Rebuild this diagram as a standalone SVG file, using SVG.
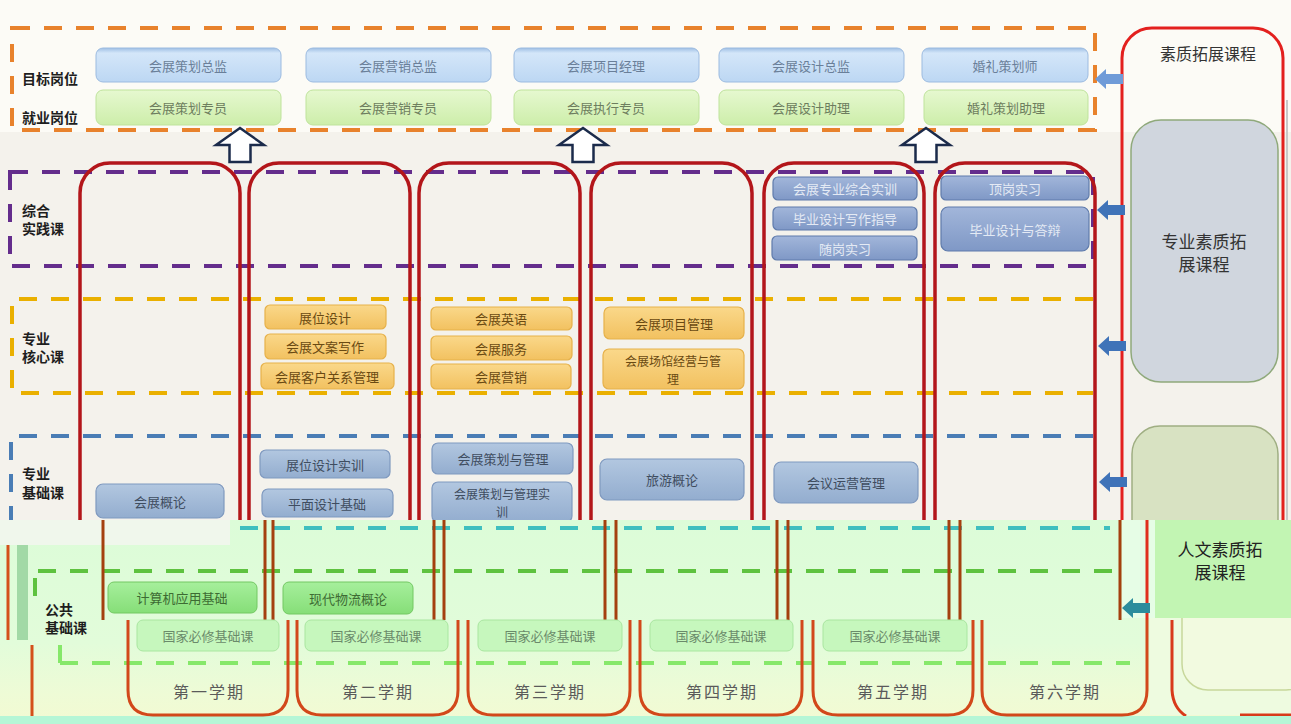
<svg xmlns="http://www.w3.org/2000/svg" width="1291" height="724" viewBox="0 0 1291 724">
<style>
text{font-family:"Noto Sans CJK SC","Noto Sans",sans-serif;text-anchor:middle;dominant-baseline:central}
.lbl{font-size:14px;fill:#1e1e1e;text-anchor:start;font-weight:bold}
.bt{font-size:13px}
.bt .two{font-size:12px}
.tgt rect{fill:url(#gBlue);stroke:#9cbbe0;stroke-width:1}
.tgt text{fill:#6a7f99}
.job rect{fill:url(#gGreen);stroke:#bfe39c;stroke-width:1}
.job text{fill:#6d7d5e}
.prac rect{fill:url(#gPrac);stroke:#5f7bab;stroke-width:1.2}
.prac text{fill:#e4eaf4}
.core rect{fill:url(#gCore);stroke:#e6b14a;stroke-width:1.2}
.core text{fill:#6a4a12}
.base rect{fill:url(#gBase);stroke:#7f99bf;stroke-width:1.2}
.base text{fill:#3f4d60}
.pub rect{fill:url(#gPub);stroke:#73c862;stroke-width:1}
.pub text{fill:#3d6b33}
.nat rect{fill:#c6f7bd;stroke:#a9e6a0;stroke-width:1}
.nat text{fill:#6a8a6a}
.sem{fill:none;stroke:#b3161a;stroke-width:3.5}
.semb{fill:none;stroke:#d2481a;stroke-width:3}
.dash{fill:none;stroke-width:4;stroke-dasharray:18 14}
.brn{stroke:#a4400f;stroke-width:3}
.semt{font-family:"Noto Sans CJK SC",serif;font-size:16px;fill:#5a5a5a;letter-spacing:2px}
.barr{fill:#3f73b8}
</style>
<defs>
<linearGradient id="gBlue" x1="0" y1="0" x2="0" y2="1"><stop offset="0" stop-color="#9fbfe4"/><stop offset="0.15" stop-color="#d4e6f9"/><stop offset="1" stop-color="#bcd7f3"/></linearGradient>
<linearGradient id="gGreen" x1="0" y1="0" x2="0" y2="1"><stop offset="0" stop-color="#e6f8d0"/><stop offset="1" stop-color="#cdeeaa"/></linearGradient>
<linearGradient id="gPrac" x1="0" y1="0" x2="0" y2="1"><stop offset="0" stop-color="#a2b6da"/><stop offset="1" stop-color="#7f98c6"/></linearGradient>
<linearGradient id="gCore" x1="0" y1="0" x2="0" y2="1"><stop offset="0" stop-color="#fad88a"/><stop offset="1" stop-color="#f2c160"/></linearGradient>
<linearGradient id="gBase" x1="0" y1="0" x2="0" y2="1"><stop offset="0" stop-color="#b2c7e0"/><stop offset="1" stop-color="#93adcf"/></linearGradient>
<linearGradient id="gPub" x1="0" y1="0" x2="0" y2="1"><stop offset="0" stop-color="#a6ef9c"/><stop offset="1" stop-color="#86de78"/></linearGradient>
<linearGradient id="gLow" x1="0" y1="0" x2="0" y2="1"><stop offset="0" stop-color="#dcfcd8"/><stop offset="0.6" stop-color="#e2fcda"/><stop offset="0.85" stop-color="#eefbd6"/><stop offset="1" stop-color="#f3fad2"/></linearGradient>
<path id="upArrow" d="M0 0 L24 17 L10.5 17 L10.5 34 L-10.5 34 L-10.5 17 L-24 17 Z"/>
<path id="leftArrow" d="M0 0 L11 -10 L11 -5 L28 -5 L28 5 L11 5 L11 10 Z"/>
</defs>

<!-- backgrounds -->
<rect x="0" y="0" width="1291" height="724" fill="#f4f2ec"/>
<rect x="0" y="0" width="1291" height="132" fill="#fcfbf6"/>
<line x1="1287" y1="100" x2="1287" y2="520" stroke="#c8c8c8" stroke-width="2"/>

<!-- right big frame -->
<g id="quality-frame">
<rect x="1122" y="28" width="161" height="720" rx="30" fill="none" stroke="#e3201e" stroke-width="3"/>
<text x="1208" y="53" style="font-size:16px;fill:#333">素质拓展课程</text>
</g>
<g id="pro-quality">
<rect x="1131" y="120" width="147" height="262" rx="30" fill="#d0d6de" stroke="#8fa97b" stroke-width="1.5"/>
<text x="1204" y="240" style="font-size:17px;fill:#333">专业素质拓</text>
<text x="1204" y="263" style="font-size:17px;fill:#333">展课程</text>
</g>
<g id="hum-quality-top">
<rect x="1132" y="426" width="146" height="200" rx="28" fill="#d8e2c2" stroke="#9fae82" stroke-width="1.5"/>
</g>

<!-- target / job band -->
<g id="band-target">
<rect class="dash" x="12" y="28" width="1083" height="102" stroke="#e8822c"/>
<text class="lbl" x="22" y="78">目标岗位</text>
<text class="lbl" x="22" y="117">就业岗位</text>
</g>
<g id="targets" class="tgt bt">
<g id="t1"><rect x="96" y="48" width="185" height="34" rx="7"/><text x="188" y="65">会展策划总监</text></g>
<g id="t2"><rect x="306" y="48" width="185" height="34" rx="7"/><text x="398" y="65">会展营销总监</text></g>
<g id="t3"><rect x="514" y="48" width="185" height="34" rx="7"/><text x="606" y="65">会展项目经理</text></g>
<g id="t4"><rect x="719" y="48" width="185" height="34" rx="7"/><text x="811" y="65">会展设计总监</text></g>
<g id="t5"><rect x="922" y="48" width="166" height="34" rx="7"/><text x="1005" y="65">婚礼策划师</text></g>
</g>
<g id="jobs" class="job bt">
<g id="j1"><rect x="96" y="90" width="185" height="35" rx="7"/><text x="188" y="107">会展策划专员</text></g>
<g id="j2"><rect x="306" y="90" width="185" height="35" rx="7"/><text x="398" y="107">会展营销专员</text></g>
<g id="j3"><rect x="514" y="90" width="185" height="35" rx="7"/><text x="606" y="107">会展执行专员</text></g>
<g id="j4"><rect x="719" y="90" width="185" height="35" rx="7"/><text x="811" y="107">会展设计助理</text></g>
<g id="j5"><rect x="924" y="90" width="164" height="35" rx="7"/><text x="1006" y="107">婚礼策划助理</text></g>
</g>

<!-- bands -->
<g id="band-practice">
<rect class="dash" x="10" y="172" width="1083" height="94" stroke="#642d8c"/>
<text class="lbl" x="22" y="210">综合</text>
<text class="lbl" x="22" y="228">实践课</text>
</g>
<g id="band-core">
<path class="dash" d="M1093 299 H12 V393 H1093" stroke="#eab000"/>
<text class="lbl" x="22" y="338">专业</text>
<text class="lbl" x="22" y="356">核心课</text>
</g>
<g id="band-base">
<path class="dash" d="M1093 436 H11 V529 H225" stroke="#4a7db5"/>
<text class="lbl" x="22" y="473">专业</text>
<text class="lbl" x="22" y="492">基础课</text>
</g>

<!-- semester columns (upper) -->
<g id="semesters-upper">
<rect class="sem" x="80" y="163" width="160" height="420" rx="30"/>
<rect class="sem" x="249" y="163" width="161" height="420" rx="30"/>
<rect class="sem" x="419" y="163" width="161" height="420" rx="30"/>
<rect class="sem" x="591" y="163" width="161" height="420" rx="30"/>
<rect class="sem" x="764" y="163" width="160" height="420" rx="30"/>
<rect class="sem" x="935" y="163" width="160" height="420" rx="30"/>
</g>

<!-- courses -->
<g id="practice" class="prac bt">
<g id="p1"><rect x="773" y="177" width="144" height="23" rx="5"/><text x="845" y="188.5">会展专业综合实训</text></g>
<g id="p2"><rect x="773" y="207" width="144" height="23" rx="5"/><text x="845" y="218.5">毕业设计写作指导</text></g>
<g id="p3"><rect x="772" y="236" width="145" height="24" rx="5"/><text x="845" y="248">随岗实习</text></g>
<g id="p4"><rect x="941" y="176" width="148" height="24" rx="5"/><text x="1015" y="188">顶岗实习</text></g>
<g id="p5"><rect x="941" y="207" width="148" height="44" rx="7"/><text x="1015" y="229">毕业设计与答辩</text></g>
</g>
<g id="core" class="core bt">
<g id="c1"><rect x="265" y="305" width="121" height="24" rx="5"/><text x="325" y="317">展位设计</text></g>
<g id="c2"><rect x="265" y="334" width="121" height="25" rx="5"/><text x="325" y="346">会展文案写作</text></g>
<g id="c3"><rect x="261" y="363" width="133" height="26" rx="5"/><text x="327" y="376">会展客户关系管理</text></g>
<g id="c4"><rect x="431" y="307" width="141" height="23" rx="5"/><text x="501" y="318.5">会展英语</text></g>
<g id="c5"><rect x="431" y="336" width="141" height="24" rx="5"/><text x="501" y="348">会展服务</text></g>
<g id="c6"><rect x="431" y="364" width="140" height="25" rx="5"/><text x="501" y="376">会展营销</text></g>
<g id="c7"><rect x="604" y="307" width="140" height="32" rx="6"/><text x="674" y="323">会展项目管理</text></g>
<g id="c8"><rect x="603" y="349" width="141" height="40" rx="6"/><text class="two" x="673" y="360">会展场馆经营与管</text><text class="two" x="673" y="378">理</text></g>
</g>
<g id="base" class="base bt">
<g id="b1"><rect x="96" y="484" width="128" height="34" rx="7"/><text x="160" y="501">会展概论</text></g>
<g id="b2"><rect x="260" y="450" width="130" height="28" rx="6"/><text x="325" y="464">展位设计实训</text></g>
<g id="b3"><rect x="262" y="489" width="131" height="28" rx="6"/><text x="327" y="503">平面设计基础</text></g>
<g id="b4"><rect x="432" y="443" width="141" height="31" rx="6"/><text x="503" y="458">会展策划与管理</text></g>
<g id="b5"><rect x="432" y="482" width="140" height="40" rx="6"/><text class="two" x="502" y="493">会展策划与管理实</text><text class="two" x="502" y="511">训</text></g>
<g id="b6"><rect x="600" y="459" width="144" height="41" rx="7"/><text x="672" y="479">旅游概论</text></g>
<g id="b7"><rect x="774" y="462" width="144" height="41" rx="7"/><text x="846" y="482">会议运营管理</text></g>
</g>

<!-- connectors -->
<g id="connectors">
<use href="#upArrow" x="240" y="128" fill="#ffffff" stroke="#1b2b4b" stroke-width="2.5"/>
<use href="#upArrow" x="583" y="128" fill="#ffffff" stroke="#1b2b4b" stroke-width="2.5"/>
<use href="#upArrow" x="926" y="128" fill="#ffffff" stroke="#1b2b4b" stroke-width="2.5"/>
<use href="#leftArrow" x="1095" y="79" fill="#6f9bd8"/>
<use href="#leftArrow" x="1097" y="210" class="barr"/>
<use href="#leftArrow" x="1098" y="346" class="barr"/>
<use href="#leftArrow" x="1099" y="482" class="barr"/>
</g>

<!-- lower (public) region -->
<g id="lower-region">
<rect x="0" y="520" width="1291" height="204" fill="url(#gLow)"/>
<rect x="0" y="520" width="230" height="25" fill="#f0f7ec"/>
<rect x="17" y="545" width="11" height="95" fill="#a2d9a6"/>
<line x1="8" y1="545" x2="8" y2="640" stroke="#d4501a" stroke-width="3"/>
<line x1="32" y1="645" x2="32" y2="724" stroke="#d4501a" stroke-width="3"/>
<rect x="1150" y="618" width="141" height="97" fill="#eefbe0"/>
<rect x="1182" y="560" width="130" height="130" rx="26" fill="#f2fae0" stroke="#c7d79a" stroke-width="1.5"/>
<rect x="1155" y="520" width="136" height="98" fill="#c2f5b3"/>
<rect x="1122" y="520" width="33" height="98" fill="#e6fde6"/>
<path d="M1172 620 V690 Q1173 708 1186 716" fill="none" stroke="#d83a1a" stroke-width="3"/>
<line x1="1240" y1="715" x2="1291" y2="715" stroke="#d83a1a" stroke-width="3"/>
<rect x="0" y="716" width="1291" height="8" fill="#b5f6d6"/>
<text x="1220" y="548" style="font-size:17px;fill:#222">人文素质拓</text>
<text x="1220" y="571" style="font-size:17px;fill:#222">展课程</text>
</g>

<g id="band-public">
<line class="dash" x1="240" y1="528" x2="1110" y2="528" stroke="#3fbfbf"/>
<line class="dash" x1="38" y1="571" x2="1120" y2="571" stroke="#5ec23f"/>
<line class="dash" x1="35" y1="578" x2="35" y2="600" stroke="#5ec23f"/>
<line class="dash" x1="60" y1="663" x2="1130" y2="663" stroke="#86e86a"/>
<line class="dash" x1="60" y1="645" x2="60" y2="663" stroke="#86e86a"/>
<text class="lbl" x="45" y="609">公共</text>
<text class="lbl" x="45" y="627">基础课</text>
</g>

<g id="semester-lines">
<line class="brn" x1="103" y1="520" x2="103" y2="620"/>
<line class="brn" x1="265" y1="520" x2="265" y2="620"/>
<line class="brn" x1="273" y1="520" x2="273" y2="620"/>
<line class="brn" x1="434" y1="520" x2="434" y2="620"/>
<line class="brn" x1="444" y1="520" x2="444" y2="620"/>
<line class="brn" x1="605" y1="520" x2="605" y2="620"/>
<line class="brn" x1="616" y1="520" x2="616" y2="620"/>
<line class="brn" x1="777" y1="520" x2="777" y2="620"/>
<line class="brn" x1="788" y1="520" x2="788" y2="620"/>
<line class="brn" x1="949" y1="520" x2="949" y2="620"/>
<line class="brn" x1="960" y1="520" x2="960" y2="620"/>
<line class="brn" x1="1120" y1="520" x2="1120" y2="620"/>
<line x1="1147" y1="520" x2="1147" y2="620" stroke="#e0301e" stroke-width="3"/>
<use href="#leftArrow" x="1122" y="608" fill="#2b8c9c"/>
</g>

<g id="semesters-lower">
<path class="semb" d="M128 620 V690 Q128 715 153 715 H263 Q288 715 288 690 V620"/>
<path class="semb" d="M297 620 V690 Q297 715 322 715 H433 Q458 715 458 690 V620"/>
<path class="semb" d="M468 620 V690 Q468 715 493 715 H605 Q630 715 630 690 V620"/>
<path class="semb" d="M640 620 V690 Q640 715 665 715 H777 Q802 715 802 690 V620"/>
<path class="semb" d="M813 620 V690 Q813 715 838 715 H948 Q973 715 973 690 V620"/>
<path class="semb" d="M982 620 V690 Q982 715 1007 715 H1122 Q1147 715 1147 690 V620"/>
<text class="semt" x="209" y="691">第一学期</text>
<text class="semt" x="378" y="691">第二学期</text>
<text class="semt" x="550" y="691">第三学期</text>
<text class="semt" x="722" y="691">第四学期</text>
<text class="semt" x="893" y="691">第五学期</text>
<text class="semt" x="1065" y="691">第六学期</text>
</g>

<g id="public" class="pub bt">
<g id="u1"><rect x="108" y="582" width="149" height="31" rx="6"/><text x="182" y="597.5">计算机应用基础</text></g>
<g id="u2"><rect x="283" y="582" width="130" height="32" rx="6"/><text x="348" y="598">现代物流概论</text></g>
</g>
<g id="national" class="nat bt">
<g id="n1"><rect x="137" y="620" width="142" height="31" rx="6"/><text x="208" y="635.5">国家必修基础课</text></g>
<g id="n2"><rect x="305" y="620" width="143" height="31" rx="6"/><text x="376" y="635.5">国家必修基础课</text></g>
<g id="n3"><rect x="478" y="620" width="144" height="31" rx="6"/><text x="550" y="635.5">国家必修基础课</text></g>
<g id="n4"><rect x="650" y="620" width="143" height="31" rx="6"/><text x="721" y="635.5">国家必修基础课</text></g>
<g id="n5"><rect x="823" y="620" width="144" height="31" rx="6"/><text x="895" y="635.5">国家必修基础课</text></g>
</g>
</svg>
